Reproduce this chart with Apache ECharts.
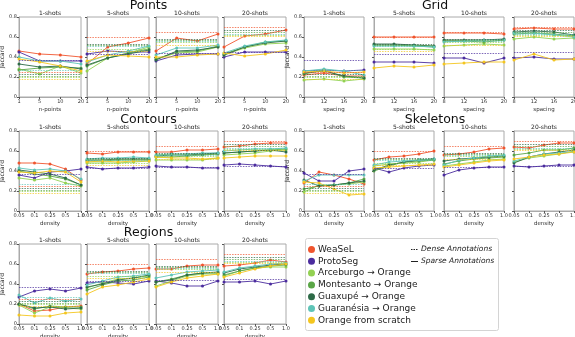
<!DOCTYPE html>
<html>
<head>
<meta charset="utf-8">
<script src="https://cdn.jsdelivr.net/npm/echarts@6/dist/echarts.min.js"></script>
<style>
  html, body { margin: 0; background: #fff; }
  #main { width: 575px; height: 337px; }
</style>
</head>
<body>
<div id="main"></div>
<script>
// methods, in legend order
const methods = ['WeaSeL', 'ProtoSeg', 'Arceburgo → Orange', 'Montesanto → Orange',
  'Guaxupé → Orange', 'Guaranésia → Orange', 'Orange from scratch'];
const colors = ['#f0552e', '#4b2c9e', '#93d152', '#5aa646', '#2d6a47', '#5ec4b7', '#f4c61f'];

const shots = ['1-shots', '5-shots', '10-shots', '20-shots'];
const pointsX = ['1', '5', '10', '20'];
const gridX = ['8', '12', '16', '20'];
const densityX = ['0.05', '0.1', '0.25', '0.5', '1.0'];
const yTicks = [0, 0.2, 0.4, 0.6, 0.8];

// dense annotations: one value per method, per shot count (same in every group)
const dense1 = [0.25, 0.37, 0.20, 0.21, 0.23, 0.27, 0.18];
const dense5 = [0.60, 0.43, 0.48, 0.52, 0.53, 0.51, 0.46];
const dense10 = [0.65, 0.44, 0.55, 0.57, 0.58, 0.56, 0.52];
const dense20 = [0.70, 0.45, 0.62, 0.65, 0.67, 0.63, 0.61];

// sparse annotations, rows follow `methods`
const points1 = [
  [0.46, 0.43, 0.42, 0.40], [0.45, 0.36, 0.36, 0.36], [0.28, 0.23, 0.31, 0.24],
  [0.27, 0.29, 0.30, 0.29], [0.33, 0.30, 0.31, 0.28], [0.40, 0.36, 0.36, 0.33],
  [0.38, 0.35, 0.31, 0.26]];
const points5 = [
  [0.33, 0.50, 0.54, 0.59], [0.43, 0.46, 0.45, 0.45], [0.26, 0.39, 0.44, 0.50],
  [0.31, 0.39, 0.44, 0.48], [0.32, 0.39, 0.43, 0.47], [0.35, 0.42, 0.46, 0.51],
  [0.36, 0.42, 0.41, 0.40]];
const points10 = [
  [0.46, 0.59, 0.56, 0.63], [0.36, 0.42, 0.43, 0.43], [0.38, 0.44, 0.45, 0.50],
  [0.38, 0.45, 0.46, 0.51], [0.37, 0.46, 0.47, 0.50], [0.42, 0.49, 0.49, 0.52],
  [0.40, 0.40, 0.42, 0.43]];
const points20 = [
  [0.50, 0.61, 0.63, 0.67], [0.40, 0.45, 0.45, 0.45], [0.42, 0.49, 0.53, 0.54],
  [0.43, 0.50, 0.55, 0.56], [0.42, 0.50, 0.54, 0.56], [0.44, 0.51, 0.55, 0.57],
  [0.44, 0.41, 0.43, 0.47]];

const grid1 = [
  [0.22, 0.24, 0.21, 0.21], [0.26, 0.27, 0.26, 0.27], [0.17, 0.18, 0.16, 0.18],
  [0.23, 0.27, 0.20, 0.19], [0.24, 0.26, 0.21, 0.19], [0.26, 0.28, 0.26, 0.22],
  [0.25, 0.26, 0.24, 0.25]];
const grid5 = [
  [0.60, 0.60, 0.60, 0.60], [0.35, 0.35, 0.35, 0.34], [0.48, 0.48, 0.48, 0.47],
  [0.52, 0.52, 0.51, 0.50], [0.53, 0.53, 0.52, 0.51], [0.51, 0.51, 0.51, 0.50],
  [0.29, 0.31, 0.30, 0.32]];
const grid10 = [
  [0.64, 0.64, 0.64, 0.63], [0.39, 0.39, 0.34, 0.39], [0.51, 0.52, 0.53, 0.52],
  [0.56, 0.56, 0.55, 0.57], [0.57, 0.57, 0.57, 0.58], [0.55, 0.56, 0.57, 0.57],
  [0.33, 0.34, 0.35, 0.35]];
const grid20 = [
  [0.68, 0.69, 0.68, 0.68], [0.39, 0.40, 0.38, 0.38], [0.58, 0.60, 0.58, 0.59],
  [0.63, 0.64, 0.63, 0.61], [0.65, 0.66, 0.65, 0.62], [0.64, 0.64, 0.62, 0.60],
  [0.37, 0.43, 0.37, 0.38]];

const contours1 = [
  [0.48, 0.48, 0.47, 0.42, 0.31], [0.36, 0.33, 0.39, 0.40, 0.42], [0.33, 0.31, 0.33, 0.28, 0.25],
  [0.40, 0.37, 0.35, 0.32, 0.26], [0.41, 0.39, 0.37, 0.33, 0.26], [0.43, 0.41, 0.42, 0.40, 0.32],
  [0.39, 0.38, 0.40, 0.39, 0.29]];
const contours5 = [
  [0.58, 0.57, 0.59, 0.59, 0.59], [0.44, 0.42, 0.43, 0.43, 0.44], [0.48, 0.48, 0.48, 0.49, 0.50],
  [0.50, 0.50, 0.51, 0.51, 0.51], [0.51, 0.51, 0.52, 0.52, 0.52], [0.52, 0.53, 0.53, 0.54, 0.53],
  [0.49, 0.50, 0.49, 0.50, 0.50]];
const contours10 = [
  [0.59, 0.59, 0.61, 0.61, 0.62], [0.45, 0.44, 0.44, 0.43, 0.43], [0.51, 0.51, 0.51, 0.51, 0.53],
  [0.54, 0.54, 0.55, 0.56, 0.57], [0.55, 0.56, 0.56, 0.57, 0.58], [0.56, 0.57, 0.57, 0.58, 0.58],
  [0.54, 0.53, 0.53, 0.52, 0.53]];
const contours20 = [
  [0.64, 0.65, 0.67, 0.68, 0.68], [0.46, 0.47, 0.46, 0.45, 0.44], [0.56, 0.57, 0.58, 0.60, 0.61],
  [0.58, 0.59, 0.60, 0.61, 0.62], [0.58, 0.59, 0.60, 0.61, 0.59], [0.60, 0.61, 0.62, 0.62, 0.63],
  [0.53, 0.54, 0.55, 0.55, 0.55]];

const skeletons1 = [
  [0.28, 0.39, 0.36, 0.32, 0.27], [0.38, 0.30, 0.30, 0.40, 0.42], [0.19, 0.26, 0.26, 0.27, 0.29],
  [0.22, 0.25, 0.26, 0.28, 0.32], [0.31, 0.25, 0.26, 0.28, 0.30], [0.30, 0.36, 0.36, 0.36, 0.36],
  [0.29, 0.28, 0.22, 0.16, 0.17]];
const skeletons5 = [
  [0.51, 0.54, 0.55, 0.57, 0.60], [0.43, 0.39, 0.43, 0.45, 0.46], [0.45, 0.47, 0.48, 0.49, 0.51],
  [0.40, 0.45, 0.49, 0.50, 0.51], [0.41, 0.46, 0.49, 0.51, 0.52], [0.46, 0.49, 0.50, 0.51, 0.52],
  [0.43, 0.44, 0.45, 0.46, 0.47]];
const skeletons10 = [
  [0.56, 0.57, 0.59, 0.62, 0.63], [0.36, 0.41, 0.43, 0.44, 0.44], [0.45, 0.47, 0.49, 0.51, 0.52],
  [0.47, 0.50, 0.52, 0.53, 0.54], [0.50, 0.52, 0.53, 0.54, 0.55], [0.46, 0.51, 0.53, 0.55, 0.56],
  [0.44, 0.46, 0.48, 0.50, 0.51]];
const skeletons20 = [
  [0.64, 0.63, 0.66, 0.68, 0.68], [0.45, 0.44, 0.45, 0.46, 0.46], [0.49, 0.53, 0.55, 0.57, 0.60],
  [0.56, 0.58, 0.61, 0.61, 0.63], [0.48, 0.54, 0.57, 0.59, 0.61], [0.50, 0.54, 0.57, 0.58, 0.59],
  [0.52, 0.54, 0.56, 0.57, 0.59]];

const regions1 = [
  [0.20, 0.13, 0.14, 0.17, 0.18], [0.27, 0.33, 0.35, 0.33, 0.36], [0.19, 0.11, 0.17, 0.16, 0.15],
  [0.20, 0.15, 0.18, 0.17, 0.17], [0.20, 0.16, 0.17, 0.15, 0.16], [0.29, 0.21, 0.26, 0.23, 0.25],
  [0.09, 0.08, 0.08, 0.11, 0.12]];
const regions5 = [
  [0.50, 0.52, 0.53, 0.55, 0.56], [0.41, 0.42, 0.41, 0.40, 0.43], [0.36, 0.41, 0.45, 0.46, 0.48],
  [0.34, 0.39, 0.43, 0.44, 0.47], [0.37, 0.40, 0.44, 0.46, 0.49], [0.39, 0.43, 0.47, 0.48, 0.50],
  [0.30, 0.37, 0.39, 0.42, 0.45]];
const regions10 = [
  [0.55, 0.55, 0.58, 0.59, 0.59], [0.43, 0.41, 0.38, 0.38, 0.43], [0.38, 0.43, 0.48, 0.50, 0.50],
  [0.42, 0.45, 0.49, 0.51, 0.51], [0.42, 0.44, 0.49, 0.51, 0.52], [0.46, 0.49, 0.52, 0.53, 0.54],
  [0.37, 0.42, 0.46, 0.48, 0.50]];
const regions20 = [
  [0.58, 0.59, 0.61, 0.64, 0.62], [0.42, 0.42, 0.43, 0.40, 0.43], [0.48, 0.53, 0.56, 0.57, 0.57],
  [0.49, 0.53, 0.56, 0.58, 0.59], [0.51, 0.55, 0.57, 0.59, 0.60], [0.52, 0.56, 0.58, 0.60, 0.61],
  [0.47, 0.51, 0.55, 0.58, 0.60]];

const denseAll = [dense1, dense5, dense10, dense20];
const groups = [
  { title: 'Points', cats: pointsX, xName: 'n-points', data: [points1, points5, points10, points20], col: 0, row: 0 },
  { title: 'Grid', cats: gridX, xName: 'spacing', data: [grid1, grid5, grid10, grid20], col: 1, row: 0 },
  { title: 'Contours', cats: densityX, xName: 'density', data: [contours1, contours5, contours10, contours20], col: 0, row: 1 },
  { title: 'Skeletons', cats: densityX, xName: 'density', data: [skeletons1, skeletons5, skeletons10, skeletons20], col: 1, row: 1 },
  { title: 'Regions', cats: densityX, xName: 'density', data: [regions1, regions5, regions10, regions20], col: 0, row: 2 }
];

// layout of the panels
const colLefts = [[19, 87, 156, 224], [304, 374, 444, 514]];
const colWidth = [62, 60];
const rowTops = [17, 131, 244];
const plotH = 80;
const FONT = 'DejaVu Sans';

var chart = echarts.init(document.getElementById('main'));

const grids = [], xAxes = [], yAxes = [], series = [], graphics = [];
let gi = 0;
groups.forEach(g => {
  const left0 = colLefts[g.col][0];
  const right0 = colLefts[g.col][3] + colWidth[g.col];
  graphics.push({
    type: 'text', x: (left0 + right0) / 2 - 4, y: rowTops[g.row] - 11.5,
    style: { text: g.title, font: '12.5px ' + FONT, fill: '#111', textAlign: 'center', textVerticalAlign: 'middle', verticalAlign: 'middle' }
  });
  shots.forEach((shotName, s) => {
    const left = colLefts[g.col][s], top = rowTops[g.row], w = colWidth[g.col];
    grids.push({ left: left, top: top, width: w, height: plotH, show: true,
      borderColor: '#aaa', borderWidth: 1, containLabel: false, outerBoundsMode: 'none' });
    graphics.push({
      type: 'text', x: left + w / 2, y: top - 3.5,
      style: { text: shotName, font: '6px ' + FONT, fill: '#222', textAlign: 'center', textVerticalAlign: 'middle', verticalAlign: 'middle' }
    });
    xAxes.push({
      gridIndex: gi, type: 'category', data: g.cats, boundaryGap: false,
      axisLine: { lineStyle: { color: '#aaa', width: 1 } },
      axisTick: { show: true, length: 2, lineStyle: { color: '#555' } },
      axisLabel: { fontSize: 5, color: '#333', margin: 2, interval: 0, fontFamily: FONT },
      name: g.xName, nameLocation: 'middle', nameGap: 9.5,
      nameTextStyle: { fontSize: 5.5, color: '#333', fontFamily: FONT }
    });
    yAxes.push({
      gridIndex: gi, type: 'value', min: yTicks[0], max: yTicks[yTicks.length - 1], interval: 0.2,
      splitLine: { show: false },
      axisLine: { show: true, lineStyle: { color: '#aaa', width: 1 } },
      axisTick: { show: true, length: 2, lineStyle: { color: '#555' } },
      axisLabel: { show: s === 0, fontSize: 5, color: '#333', margin: 2, fontFamily: FONT,
        formatter: v => (v === 0 ? '0' : v.toFixed(1)) },
      name: s === 0 ? 'Jaccard' : '', nameLocation: 'middle', nameGap: 11, nameRotate: 90,
      nameTextStyle: { fontSize: 6, color: '#222', fontFamily: FONT }
    });
    methods.forEach((m, k) => {
      series.push({
        type: 'line', name: m, xAxisIndex: gi, yAxisIndex: gi,
        data: g.data[s][k], symbol: 'circle', symbolSize: 3, silent: true,
        lineStyle: { width: 0.9, color: colors[k] }, itemStyle: { color: colors[k] },
        markLine: {
          silent: true, symbol: 'none', label: { show: false },
          lineStyle: { type: [1.5, 1.2], width: 0.8, color: colors[k], opacity: 0.9 },
          data: [{ yAxis: denseAll[s][k] }]
        }
      });
    });
    gi++;
  });
});

// legend frame and annotation style keys
graphics.push({ type: 'rect', z: -1, shape: { x: 305.5, y: 238.5, width: 193, height: 92, r: 2 },
  style: { fill: '#fff', stroke: '#d4d4d4', lineWidth: 1 } });
graphics.push({ type: 'line', shape: { x1: 411, y1: 249.5, x2: 418, y2: 249.5 },
  style: { stroke: '#222', lineWidth: 1, lineDash: [1.5, 1] } });
graphics.push({ type: 'line', shape: { x1: 411, y1: 261.5, x2: 418, y2: 261.5 },
  style: { stroke: '#222', lineWidth: 1 } });
graphics.push({ type: 'text', x: 421, y: 249.5,
  style: { text: 'Dense Annotations', font: 'italic 7.5px ' + FONT, fill: '#222', textVerticalAlign: 'middle', verticalAlign: 'middle' } });
graphics.push({ type: 'text', x: 421, y: 261.5,
  style: { text: 'Sparse Annotations', font: 'italic 7.5px ' + FONT, fill: '#222', textVerticalAlign: 'middle', verticalAlign: 'middle' } });

chart.setOption({
  animation: false,
  textStyle: { fontFamily: FONT },
  grid: grids,
  xAxis: xAxes,
  yAxis: yAxes,
  legend: {
    data: methods, orient: 'vertical', left: 308, top: 245, icon: 'circle',
    itemWidth: 7, itemHeight: 7, itemGap: 2.8, selectedMode: false, padding: 0,
    textStyle: { fontSize: 9, color: '#222', fontFamily: FONT, padding: [0, 0, 0, -2] }
  },
  graphic: graphics,
  series: series
});
</script>
</body>
</html>
